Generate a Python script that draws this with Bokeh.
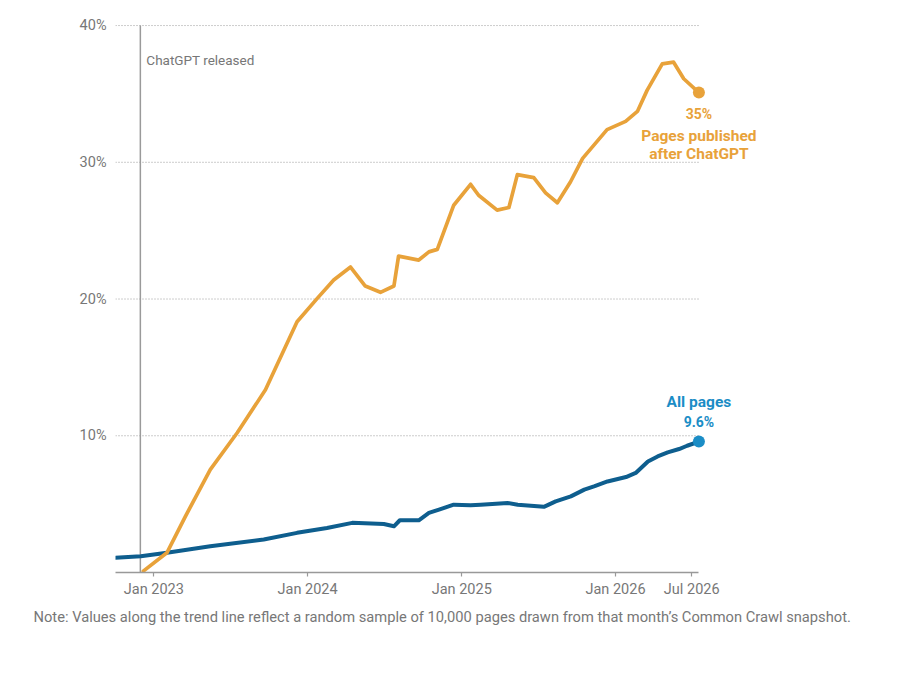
import pandas as pd
from datetime import datetime, timedelta
from bokeh.plotting import figure
from bokeh.models import FixedTicker, PrintfTickFormatter, Range1d, Title
from bokeh.core.properties import value
from bokeh.embed import file_html
from bokeh.resources import INLINE

# ---- data ----
orange_dates = ["2022-12-07", "2023-02-01", "2023-03-17", "2023-05-15", "2023-07-18",
                "2023-09-23", "2023-12-07", "2024-01-24", "2024-03-03", "2024-04-12",
                "2024-05-17", "2024-06-22", "2024-07-24", "2024-08-04", "2024-09-21",
                "2024-10-15", "2024-11-04", "2024-12-13", "2025-01-22", "2025-02-10",
                "2025-03-26", "2025-04-23", "2025-05-13", "2025-06-21", "2025-07-19",
                "2025-08-16", "2025-09-16", "2025-10-15", "2025-12-12", "2026-01-25",
                "2026-02-22", "2026-03-17", "2026-04-22", "2026-05-19", "2026-06-12",
                "2026-07-18"]
orange_vals = [0.1, 1.44, 4.11, 7.52, 10.22,
               13.36, 18.34, 20.05, 21.39, 22.34,
               20.95, 20.49, 20.95, 23.14, 22.85,
               23.45, 23.63, 26.86, 28.39, 27.59,
               26.5, 26.69, 29.1, 28.88, 27.76,
               27.04, 28.56, 30.29, 32.39, 32.99,
               33.72, 35.26, 37.2, 37.32, 36.11,
               35.1]

blue_dates = ["2022-10-02", "2022-12-01", "2023-02-01", "2023-05-15", "2023-09-19",
              "2023-12-07", "2024-02-16", "2024-04-16", "2024-06-30", "2024-07-24",
              "2024-08-07", "2024-09-21", "2024-10-15", "2024-11-08", "2024-12-13",
              "2025-01-22", "2025-02-15", "2025-04-20", "2025-05-14", "2025-07-15",
              "2025-08-12", "2025-09-17", "2025-10-19", "2025-11-11", "2025-12-13",
              "2026-01-26", "2026-02-18", "2026-03-19", "2026-04-11", "2026-05-05",
              "2026-06-01", "2026-06-20", "2026-07-18"]
blue_vals = [1.07, 1.19, 1.44, 1.92, 2.41,
             2.9, 3.26, 3.63, 3.55, 3.38,
             3.82, 3.82, 4.36, 4.6, 4.96,
             4.91, 4.96, 5.08, 4.96, 4.8,
             5.2, 5.57, 6.06, 6.3, 6.66,
             6.98, 7.28, 8.12, 8.49, 8.78,
             9.03, 9.27, 9.58]

y_ticks = [10, 20, 30, 40]
x_tick_dates = ["2023-01-01", "2024-01-01", "2025-01-01", "2026-01-01", "2026-07-01"]
x_tick_labels = ["Jan 2023", "Jan 2024", "Jan 2025", "Jan 2026", "Jul 2026"]
release_date = "2022-11-30"

orange_label_value = "35%"
blue_label_value = "9.6%"
orange_name = "Pages published\nafter ChatGPT"
blue_name = "All pages"
release_text = "ChatGPT released"
note_text = ("Note: Values along the trend line reflect a random sample of 10,000 pages "
             "drawn from that month\u2019s Common Crawl snapshot.")

# ---- styles ----
ORANGE = "#E8A23A"
BLUE_LINE = "#0E5E8E"
BLUE_TEXT = "#1B8DC6"
GRAY = "#777777"
FONT = "Roboto"

od = pd.to_datetime(orange_dates)
bd = pd.to_datetime(blue_dates)

ref = datetime(2023, 1, 1)
x_start = ref - timedelta(days=91)
x_end = ref + timedelta(days=1464)
axis_end = pd.to_datetime(blue_dates[-1]).to_pydatetime()

p = figure(width=890, height=630, x_axis_type="datetime", output_backend="svg",
           toolbar_location=None, x_range=Range1d(x_start, x_end), y_range=Range1d(0, 40.37),
           min_border_left=115, min_border_right=120, min_border_top=20, min_border_bottom=30)
p.outline_line_color = None
p.background_fill_color = "white"
p.border_fill_color = "white"
p.xgrid.visible = False
p.ygrid.visible = False

# horizontal dotted gridlines across the data span
p.segment(x0=[x_start] * len(y_ticks), x1=[axis_end] * len(y_ticks), y0=y_ticks, y1=y_ticks,
          line_color="#9a9a9a", line_width=1, line_dash="1 2")

# ChatGPT release marker
rd = pd.to_datetime(release_date)
p.segment(x0=[rd], x1=[rd], y0=[0], y1=[y_ticks[-1]], line_color="#9a9a9a", line_width=1.5)
p.text(x=[rd], y=[37.5], text=[release_text], x_offset=6, text_align="left",
       text_baseline="middle", text_color=GRAY, text_font=value(FONT), text_font_size="13.5px")

# lines
p.line(x=bd, y=blue_vals, line_color=BLUE_LINE, line_width=4, line_join="round", line_cap="round")
p.line(x=od, y=orange_vals, line_color=ORANGE, line_width=3.7, line_join="round", line_cap="round")

# end dots
p.scatter(x=[bd[-1]], y=[blue_vals[-1]], size=12, fill_color=BLUE_TEXT, line_color=None)
p.scatter(x=[od[-1]], y=[orange_vals[-1]], size=12, fill_color=ORANGE, line_color=None)

# end labels
p.text(x=[od[-1]], y=[orange_vals[-1]], text=[orange_label_value], y_offset=21,
       text_align="center", text_baseline="middle", text_color=ORANGE,
       text_font=value(FONT), text_font_style="bold", text_font_size="14px")
p.text(x=[od[-1]], y=[orange_vals[-1]], text=[orange_name], y_offset=34,
       text_align="center", text_baseline="top", text_color=ORANGE, text_line_height=1.02,
       text_font=value(FONT), text_font_style="bold", text_font_size="15.5px")
p.text(x=[bd[-1]], y=[blue_vals[-1]], text=[blue_name], y_offset=-40,
       text_align="center", text_baseline="middle", text_color=BLUE_TEXT,
       text_font=value(FONT), text_font_style="bold", text_font_size="15.5px")
p.text(x=[bd[-1]], y=[blue_vals[-1]], text=[blue_label_value], y_offset=-20,
       text_align="center", text_baseline="middle", text_color=BLUE_TEXT,
       text_font=value(FONT), text_font_style="bold", text_font_size="14px")

# x axis
tick_ms = [pd.Timestamp(d).value // 10**6 for d in x_tick_dates]
p.xaxis.ticker = FixedTicker(ticks=tick_ms)
p.xaxis.major_label_overrides = {t: lab for t, lab in zip(tick_ms, x_tick_labels)}
p.xaxis.bounds = (x_start, axis_end)
p.xaxis.axis_line_color = "#999999"
p.xaxis.axis_line_width = 1.5
p.xaxis.major_tick_line_color = "#999999"
p.xaxis.major_tick_line_width = 1.2
p.xaxis.major_tick_in = 0
p.xaxis.major_tick_out = 4
p.xaxis.minor_tick_line_color = None
p.xaxis.major_label_text_color = GRAY
p.xaxis.major_label_text_font = FONT
p.xaxis.major_label_text_font_size = "14.5px"
p.xaxis.major_label_standoff = 4

# y axis
p.yaxis.ticker = FixedTicker(ticks=y_ticks)
p.yaxis.formatter = PrintfTickFormatter(format="%d%%")
p.yaxis.axis_line_color = None
p.yaxis.major_tick_line_color = None
p.yaxis.minor_tick_line_color = None
p.yaxis.major_label_text_color = GRAY
p.yaxis.major_label_text_font = FONT
p.yaxis.major_label_text_font_size = "14.5px"
p.yaxis.major_label_standoff = 3

# note
p.add_layout(Title(text=note_text, align="left", offset=-82, standoff=10,
                   text_color=GRAY, text_font=FONT, text_font_size="14.7px",
                   text_font_style="normal"), "below")

open("out.html", "w").write(file_html(p, INLINE))
